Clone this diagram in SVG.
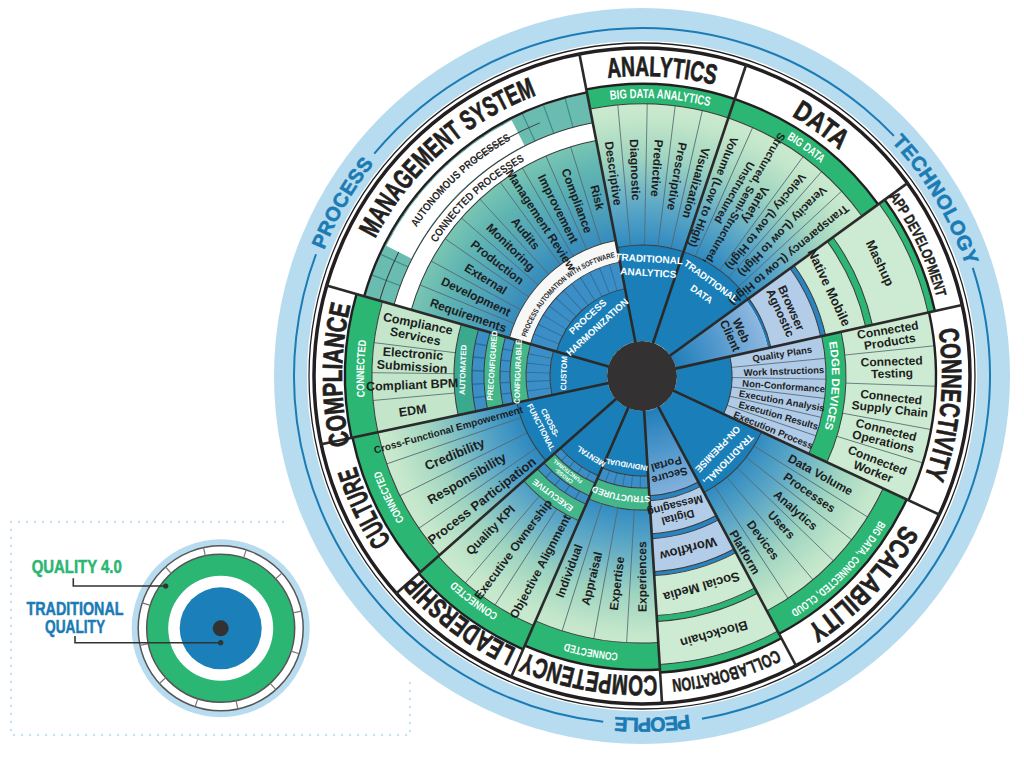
<svg xmlns="http://www.w3.org/2000/svg" width="1024" height="764" viewBox="0 0 1024 764">
<defs>
<style>
text{font-family:"Liberation Sans Narrow","Liberation Sans",Arial,sans-serif;font-weight:700}
.c{dominant-baseline:central;text-anchor:middle}
.s{dominant-baseline:central;text-anchor:start}
.big{font-size:28px;fill:#231f20;stroke:#231f20;stroke-width:0.7}
.it{font-size:12px;fill:#1e1e1e}
.wt{fill:#fff}
.sec{fill:none}
.ar{fill:none;stroke:#3a3a3a;stroke-width:1}
.lb{fill:none;stroke:#231f20;stroke-width:2.4}
.rl{stroke:#2a2a2a;stroke-width:2.6}
.tl{stroke:#56676e;stroke-width:0.8}
</style>
<radialGradient id="gG" gradientUnits="userSpaceOnUse" cx="0" cy="0" r="280">
<stop offset="0.45" stop-color="#2a87c0"/><stop offset="0.6" stop-color="#5aa6c6"/><stop offset="0.78" stop-color="#9fd4c0"/><stop offset="0.92" stop-color="#c4e7cb"/><stop offset="1" stop-color="#cdebd0"/>
</radialGradient>
<radialGradient id="gT" gradientUnits="userSpaceOnUse" cx="0" cy="0" r="280">
<stop offset="0.45" stop-color="#2c83bd"/><stop offset="0.6" stop-color="#4c9fba"/><stop offset="0.75" stop-color="#5fb4b2"/><stop offset="0.86" stop-color="#79c6b3"/><stop offset="1" stop-color="#8ed1b6"/>
</radialGradient>
<radialGradient id="gB" gradientUnits="userSpaceOnUse" cx="0" cy="0" r="130">
<stop offset="0.25" stop-color="#1f7db8"/><stop offset="0.6" stop-color="#4f97cc"/><stop offset="1" stop-color="#8fb8e0"/>
</radialGradient>
<path id="t342" d="M0,-342A342,342 0 1 1 0,342A342,342 0 1 1 0,-342"/>
<path id="b342" d="M0,342A342,342 0 1 1 0,-342A342,342 0 1 1 0,342"/>
<path id="t300" d="M0,-300A300,300 0 1 1 0,300A300,300 0 1 1 0,-300"/>
<path id="b300" d="M0,300A300,300 0 1 1 0,-300A300,300 0 1 1 0,300"/>
<path id="t305" d="M0,-305A305,305 0 1 1 0,305A305,305 0 1 1 0,-305"/>
<path id="b305" d="M0,305A305,305 0 1 1 0,-305A305,305 0 1 1 0,305"/>
<path id="t278" d="M0,-278A278,278 0 1 1 0,278A278,278 0 1 1 0,-278"/>
<path id="b278" d="M0,278A278,278 0 1 1 0,-278A278,278 0 1 1 0,278"/>
<path id="t190" d="M0,-190A190,190 0 1 1 0,190A190,190 0 1 1 0,-190"/>
<path id="b270" d="M0,270A270,270 0 1 1 0,-270A270,270 0 1 1 0,270"/>
<path id="b245" d="M0,245A245,245 0 1 1 0,-245A245,245 0 1 1 0,245"/>
<path id="b122" d="M0,122A122,122 0 1 1 0,-122A122,122 0 1 1 0,122"/>
<path id="t120" d="M0,-120A120,120 0 1 1 0,120A120,120 0 1 1 0,-120"/>
</defs>
<rect width="1024" height="764" fill="#fff"/>

<g id="legend">
<rect x="11" y="522" width="399" height="213" fill="none" stroke="#c4e2f4" stroke-width="2.4" stroke-dasharray="0 8" stroke-linecap="round"/>
<g transform="translate(220.7 628.3)">
<circle r="89" fill="#b7dcef"/>
<circle r="82.5" fill="#fff" stroke="#555" stroke-width="1.5"/>
<circle r="74" fill="#2bb673" stroke="#555" stroke-width="1.5"/>
<circle r="52.5" fill="#fff"/>
<circle r="41" fill="#1b80b9"/>
<circle r="8" fill="#333132"/>
<g stroke="#777" stroke-width="1.2">
<line y1="-74" y2="-82.5" transform="rotate(-12)"/><line y1="-74" y2="-82.5" transform="rotate(18)"/><line y1="-74" y2="-82.5" transform="rotate(48)"/><line y1="-74" y2="-82.5" transform="rotate(78)"/><line y1="-74" y2="-82.5" transform="rotate(108)"/><line y1="-74" y2="-82.5" transform="rotate(138)"/><line y1="-74" y2="-82.5" transform="rotate(168)"/><line y1="-74" y2="-82.5" transform="rotate(198)"/><line y1="-74" y2="-82.5" transform="rotate(228)"/><line y1="-74" y2="-82.5" transform="rotate(258)"/><line y1="-74" y2="-82.5" transform="rotate(288)"/><line y1="-74" y2="-82.5" transform="rotate(318)"/>
</g>
</g>
<polyline points="73.3,578.3 73.3,586 165.7,586" fill="none" stroke="#333" stroke-width="1.6"/>
<circle cx="165.7" cy="586" r="2.6" fill="#333"/>
<polyline points="75,636 75,642.7 220.7,642.7" fill="none" stroke="#333" stroke-width="1.6"/>
<circle cx="220.7" cy="642.7" r="2.6" fill="#333"/>
<text x="76.7" y="573.3" font-size="18" fill="#2bb673" stroke="#2bb673" stroke-width="0.5" text-anchor="middle" textLength="90" lengthAdjust="spacingAndGlyphs">QUALITY 4.0</text>
<text x="75" y="615" font-size="18" fill="#1b7bb5" stroke="#1b7bb5" stroke-width="0.5" text-anchor="middle" textLength="97" lengthAdjust="spacingAndGlyphs">TRADITIONAL</text>
<text x="75" y="633.3" font-size="18" fill="#1b7bb5" stroke="#1b7bb5" stroke-width="0.5" text-anchor="middle" textLength="60" lengthAdjust="spacingAndGlyphs">QUALITY</text>
</g>

<g id="wheel" transform="translate(642 376)">
<circle r="381" fill="#fff"/>
<circle r="368" fill="#b7dcef"/>
<circle r="335" fill="#fff"/>
<g fill="none" stroke="#1b7bb5" stroke-width="2">
<circle r="348" pathLength="360" stroke-dasharray="96.7 360" transform="rotate(219.7)"/>
<circle r="348" pathLength="360" stroke-dasharray="98.2 360" transform="rotate(-18.1)"/>
<circle r="348" pathLength="360" stroke-dasharray="104.1 360" transform="rotate(96.4)"/>
</g>
<g font-size="20" fill="#1b7bb5" stroke="#1b7bb5" stroke-width="0.6" text-anchor="middle">
<text><textPath href="#b342" startOffset="33.33%" textLength="100">PROCESS</textPath></text>
<text><textPath href="#b342" startOffset="66.39%" textLength="145">TECHNOLOGY</textPath></text>
<text><textPath href="#t342" startOffset="49.53%" textLength="75">PEOPLE</textPath></text>
</g>
<circle r="333" fill="none" stroke="#231f20" stroke-width="1.3"/>
<circle r="328" fill="#fff" stroke="#231f20" stroke-width="3.5"/>

<g id="sectors" class="sec">
<g transform="rotate(259)" stroke-dasharray="29.5 360">
<circle class="sec" r="282" stroke-width="20" stroke="#2bb673" pathLength="360"/>
<circle class="sec" r="201.5" stroke-width="141" stroke="url(#gG)" pathLength="360"/>
<circle class="sec" r="83" stroke-width="96" stroke="#1a7fb8" pathLength="360"/>
</g>
<g transform="rotate(-71.5)" stroke-dasharray="35.5 360">
<circle class="sec" r="282" stroke-width="20" stroke="#2bb673" pathLength="360"/>
<circle class="sec" r="201.5" stroke-width="141" stroke="url(#gG)" pathLength="360"/>
<circle class="sec" r="83" stroke-width="96" stroke="#1a7fb8" pathLength="360"/>
</g>
<g transform="rotate(-36)" stroke-dasharray="23.5 360">
<circle class="sec" r="296.5" stroke-width="7" stroke="#2bb673" pathLength="360"/>
<circle class="sec" r="264.5" stroke-width="57" stroke="#cdebd2" pathLength="360"/>
<circle class="sec" r="232.5" stroke-width="7" stroke="#2bb673" pathLength="360"/>
<circle class="sec" r="208.5" stroke-width="41" stroke="#cdebd2" pathLength="360"/>
<circle class="sec" r="185.5" stroke-width="5" stroke="#2a84c2" pathLength="360"/>
<circle class="sec" r="157.5" stroke-width="51" stroke="#b3cde8" pathLength="360"/>
<circle class="sec" r="130.5" stroke-width="3" stroke="#1f78b2" pathLength="360"/>
<circle class="sec" r="82" stroke-width="94" stroke="url(#gB)" pathLength="360"/>
</g>
<g transform="rotate(-12.5)" stroke-dasharray="37.5 360">
<circle class="sec" r="249" stroke-width="90" stroke="#cdebd2" pathLength="360"/>
<circle class="sec" r="194" stroke-width="20" stroke="#2bb673" pathLength="360"/>
<circle class="sec" r="137" stroke-width="94" stroke="#b0cbe7" pathLength="360"/>
<circle class="sec" r="62.5" stroke-width="55" stroke="#1a7fb8" pathLength="360"/>
</g>
<g transform="rotate(25)" stroke-dasharray="37 360">
<circle class="sec" r="279" stroke-width="26" stroke="#2bb673" pathLength="360"/>
<circle class="sec" r="199" stroke-width="134" stroke="url(#gG)" pathLength="360"/>
<circle class="sec" r="83.5" stroke-width="97" stroke="#1a7fb8" pathLength="360"/>
</g>
<g transform="rotate(62)" stroke-dasharray="24.5 360">
<circle class="sec" r="293" stroke-width="8" stroke="#2bb673" pathLength="360"/>
<circle class="sec" r="267.5" stroke-width="43" stroke="#cdebd2" pathLength="360"/>
<circle class="sec" r="243" stroke-width="6" stroke="#2bb673" pathLength="360"/>
<circle class="sec" r="220" stroke-width="40" stroke="#cdebd2" pathLength="360"/>
<circle class="sec" r="198" stroke-width="4" stroke="#2a84c2" pathLength="360"/>
<circle class="sec" r="179.5" stroke-width="33" stroke="#b3cde8" pathLength="360"/>
<circle class="sec" r="160.5" stroke-width="5" stroke="#2a84c2" pathLength="360"/>
<circle class="sec" r="141.5" stroke-width="33" stroke="#b3cde8" pathLength="360"/>
<circle class="sec" r="122.5" stroke-width="5" stroke="#2a84c2" pathLength="360"/>
<circle class="sec" r="77.5" stroke-width="85" stroke="url(#gB)" pathLength="360"/>
</g>
<g transform="rotate(86.5)" stroke-dasharray="27 360">
<circle class="sec" r="280.5" stroke-width="27" stroke="#2bb673" pathLength="360"/>
<circle class="sec" r="200.5" stroke-width="133" stroke="url(#gG)" pathLength="360"/>
<circle class="sec" r="123" stroke-width="22" stroke="#43b68a" pathLength="360"/>
<circle class="sec" r="106" stroke-width="12" stroke="#3c8ec6" pathLength="360"/>
<circle class="sec" r="67.5" stroke-width="65" stroke="#1a7fb8" pathLength="360"/>
</g>
<g transform="rotate(113.5)" stroke-dasharray="25 360">
<circle class="sec" r="285" stroke-width="26" stroke="#2bb673" pathLength="360"/>
<circle class="sec" r="215" stroke-width="114" stroke="url(#gG)" pathLength="360"/>
<circle class="sec" r="149" stroke-width="18" stroke="#43b68a" pathLength="360"/>
<circle class="sec" r="135.5" stroke-width="9" stroke="#3c8ec6" pathLength="360"/>
<circle class="sec" r="124" stroke-width="14" stroke="#43b68a" pathLength="360"/>
<circle class="sec" r="113" stroke-width="8" stroke="#3c8ec6" pathLength="360"/>
<circle class="sec" r="72" stroke-width="74" stroke="#1a7fb8" pathLength="360"/>
</g>
<g transform="rotate(138.5)" stroke-dasharray="29.5 360">
<circle class="sec" r="283" stroke-width="26" stroke="#2bb673" pathLength="360"/>
<circle class="sec" r="199" stroke-width="142" stroke="url(#gG)" pathLength="360"/>
<circle class="sec" r="81.5" stroke-width="93" stroke="#1a7fb8" pathLength="360"/>
</g>
<g transform="rotate(168)" stroke-dasharray="28 360">
<circle class="sec" r="283.5" stroke-width="27" stroke="#2bb673" pathLength="360"/>
<circle class="sec" r="229" stroke-width="82" stroke="#c3e6cb" pathLength="360"/>
<circle class="sec" r="179" stroke-width="18" stroke="#3aa98e" pathLength="360"/>
<circle class="sec" r="164" stroke-width="12" stroke="#3c8ec6" pathLength="360"/>
<circle class="sec" r="150" stroke-width="16" stroke="#43b68a" pathLength="360"/>
<circle class="sec" r="137" stroke-width="10" stroke="#3c8ec6" pathLength="360"/>
<circle class="sec" r="124" stroke-width="16" stroke="#43b68a" pathLength="360"/>
<circle class="sec" r="104" stroke-width="24" stroke="#3c8ec6" pathLength="360"/>
<circle class="sec" r="63.5" stroke-width="57" stroke="#1a7fb8" pathLength="360"/>
</g>
<g transform="rotate(196)" stroke-dasharray="63 360">
<circle class="sec" r="273" stroke-width="30" stroke="#6abcb1" pathLength="360"/>
<circle class="sec" r="248.5" stroke-width="17" stroke="#fff" pathLength="360"/>
<circle class="sec" r="189" stroke-width="102" stroke="url(#gT)" pathLength="360"/>
<circle class="sec" r="127" stroke-width="22" stroke="#f6f7f7" pathLength="360"/>
<circle class="sec" r="102.5" stroke-width="27" stroke="#3c8ec6" pathLength="360"/>
<circle class="sec" r="62" stroke-width="54" stroke="#1a7fb8" pathLength="360"/>
</g>
</g>

<g id="cells" fill="none">
<g stroke="#2b6f9f">
<circle r="106" stroke-width="12" pathLength="360" stroke-dasharray="0 4.25 .5 4 .5 4 .5 4 .5 4 .5 400" transform="rotate(86.5)"/>
<circle r="113" stroke-width="8" pathLength="360" stroke-dasharray="0 4.75 .5 4.5 .5 4.5 .5 4.5 .5 400" transform="rotate(113.5)"/>
<circle r="135.5" stroke-width="9" pathLength="360" stroke-dasharray="0 4.75 .5 4.5 .5 4.5 .5 4.5 .5 400" transform="rotate(113.5)"/>
<circle r="104" stroke-width="24" pathLength="360" stroke-dasharray="0 4.4 .5 4.1 .5 4.1 .5 4.1 .5 4.1 .5 400" transform="rotate(168)"/>
<circle r="137" stroke-width="10" pathLength="360" stroke-dasharray="0 4.4 .5 4.1 .5 4.1 .5 4.1 .5 4.1 .5 400" transform="rotate(168)"/>
<circle r="164" stroke-width="12" pathLength="360" stroke-dasharray="0 4.4 .5 4.1 .5 4.1 .5 4.1 .5 4.1 .5 400" transform="rotate(168)"/>
<circle r="102.5" stroke-width="27" pathLength="360" stroke-dasharray="0 5 .5 4.75 .5 4.75 .5 4.75 .5 4.75 .5 4.75 .5 4.75 .5 4.75 .5 4.75 .5 4.75 .5 4.75 .5 400" transform="rotate(196)"/>
</g>
<g stroke="#3d8c8a">
<circle r="273" stroke-width="30" pathLength="360" stroke-dasharray="0 4.375 .25 4.25 .25 4.25 .25 4.25 .25 4.25 .25 4.25 .25 4.25 .25 4.25 .25 4.25 .25 4.25 .25 4.25 .25 4.25 .25 4.25 .25 400" transform="rotate(196)"/>
</g>
<circle r="273" fill="none" stroke="#fff" stroke-width="28" pathLength="360" stroke-dasharray="36 360" transform="rotate(207)"/>
</g>

<g id="thin-lines" class="tl">
<line y1="-131" y2="-272" transform="rotate(-5.1)"/><line y1="-131" y2="-272" transform="rotate(1.1)"/><line y1="-131" y2="-272" transform="rotate(7)"/><line y1="-131" y2="-272" transform="rotate(12.8)"/>
<line y1="-131" y2="-272" transform="rotate(24)"/><line y1="-131" y2="-272" transform="rotate(36.3)"/><line y1="-131" y2="-272" transform="rotate(41.3)"/><line y1="-131" y2="-272" transform="rotate(47.2)"/>
<line y1="-204" y2="-294" transform="rotate(84.1)"/><line y1="-204" y2="-294" transform="rotate(92)"/><line y1="-204" y2="-294" transform="rotate(100.5)"/><line y1="-204" y2="-294" transform="rotate(107.2)"/>
<line y1="-90" y2="-184" transform="rotate(84.5)"/><line y1="-90" y2="-184" transform="rotate(91)"/><line y1="-90" y2="-184" transform="rotate(97)"/><line y1="-90" y2="-184" transform="rotate(103)"/><line y1="-90" y2="-184" transform="rotate(109)"/>
<line y1="-132" y2="-266" transform="rotate(122)"/><line y1="-132" y2="-266" transform="rotate(128)"/><line y1="-132" y2="-266" transform="rotate(134)"/><line y1="-132" y2="-266" transform="rotate(140)"/><line y1="-132" y2="-266" transform="rotate(146.7)"/>
<line y1="-134" y2="-267" transform="rotate(183.3)"/><line y1="-134" y2="-267" transform="rotate(190.4)"/><line y1="-134" y2="-267" transform="rotate(197.4)"/>
<line y1="-158" y2="-272" transform="rotate(212.7)"/><line y1="-158" y2="-272" transform="rotate(220.5)"/>
<line y1="-128" y2="-270" transform="rotate(235.7)"/><line y1="-128" y2="-270" transform="rotate(243.7)"/><line y1="-128" y2="-270" transform="rotate(251)"/>
<line y1="-188" y2="-270" transform="rotate(264.8)"/><line y1="-188" y2="-270" transform="rotate(270.7)"/><line y1="-188" y2="-270" transform="rotate(277.1)"/>
<line y1="-138" y2="-240" transform="rotate(292.3)"/><line y1="-138" y2="-240" transform="rotate(298.6)"/><line y1="-138" y2="-240" transform="rotate(304.9)"/><line y1="-138" y2="-240" transform="rotate(311.2)"/><line y1="-138" y2="-240" transform="rotate(317.5)"/><line y1="-138" y2="-240" transform="rotate(323.8)"/><line y1="-138" y2="-240" transform="rotate(330.1)"/><line y1="-138" y2="-240" transform="rotate(336.4)"/><line y1="-138" y2="-240" transform="rotate(342.7)"/>
</g>

<g id="arcs">
<g class="ar">
<circle r="272" pathLength="360" stroke-dasharray="65 360" transform="rotate(259)"/>
<circle r="131" pathLength="360" stroke-dasharray="65 360" transform="rotate(259)"/>
<g transform="rotate(-36)" stroke-dasharray="23.5 360"><circle r="293" pathLength="360"/><circle r="236" pathLength="360"/><circle r="229" pathLength="360"/><circle r="188" pathLength="360"/><circle r="183" pathLength="360"/><circle r="132" pathLength="360"/></g>
<g transform="rotate(-12.5)" stroke-dasharray="37.5 360"><circle r="204" pathLength="360"/><circle r="184" pathLength="360"/><circle r="90" pathLength="360"/></g>
<g transform="rotate(25)" stroke-dasharray="37 360"><circle r="266" pathLength="360"/><circle r="132" pathLength="360"/></g>
<g transform="rotate(62)" stroke-dasharray="24.5 360"><circle r="289" pathLength="360"/><circle r="246" pathLength="360"/><circle r="240" pathLength="360"/><circle r="200" pathLength="360"/><circle r="196" pathLength="360"/><circle r="163" pathLength="360"/><circle r="158" pathLength="360"/><circle r="125" pathLength="360"/><circle r="120" pathLength="360"/></g>
<g transform="rotate(86.5)" stroke-dasharray="27 360"><circle r="267" pathLength="360"/><circle r="134" pathLength="360"/><circle r="112" pathLength="360"/><circle r="100" pathLength="360"/></g>
<g transform="rotate(113.5)" stroke-dasharray="25 360"><circle r="272" pathLength="360"/><circle r="158" pathLength="360"/><circle r="140" pathLength="360"/><circle r="131" pathLength="360"/><circle r="117" pathLength="360"/><circle r="109" pathLength="360"/></g>
<g transform="rotate(138.5)" stroke-dasharray="29.5 360"><circle r="270" pathLength="360"/><circle r="128" pathLength="360"/></g>
<g transform="rotate(168)" stroke-dasharray="28 360"><circle r="270" pathLength="360"/><circle r="188" pathLength="360"/><circle r="170" pathLength="360"/><circle r="158" pathLength="360"/><circle r="142" pathLength="360"/><circle r="132" pathLength="360"/><circle r="116" pathLength="360"/><circle r="92" pathLength="360"/></g>
<g transform="rotate(196)" stroke-dasharray="63 360"><circle r="258" pathLength="360"/><circle r="240" pathLength="360"/><circle r="138" pathLength="360"/><circle r="116" pathLength="360"/><circle r="89" pathLength="360"/></g>
<circle r="273" pathLength="360" stroke-dasharray="11 25 16 400" transform="rotate(196)"/>
</g>
<g class="lb">
<circle r="292" pathLength="360" stroke-dasharray="65 360" transform="rotate(259)"/>
<circle r="300" pathLength="360" stroke-dasharray="23.5 360" transform="rotate(-36)"/>
<circle r="294" pathLength="360" stroke-dasharray="37.5 360" transform="rotate(-12.5)"/>
<circle r="292" pathLength="360" stroke-dasharray="37 360" transform="rotate(25)"/>
<circle r="297" pathLength="360" stroke-dasharray="24.5 360" transform="rotate(62)"/>
<circle r="294" pathLength="360" stroke-dasharray="27 360" transform="rotate(86.5)"/>
<circle r="298" pathLength="360" stroke-dasharray="25 360" transform="rotate(113.5)"/>
<circle r="296" pathLength="360" stroke-dasharray="29.5 360" transform="rotate(138.5)"/>
<circle r="297" pathLength="360" stroke-dasharray="28 360" transform="rotate(168)"/>
<circle r="289" pathLength="360" stroke-dasharray="63 360" transform="rotate(196)"/>
</g>
</g>

<g id="connectors" class="rl">
<line y1="-34" y2="-329" transform="rotate(-11)"/>
<line y1="-34" y2="-329" transform="rotate(18.5)"/>
<line y1="-34" y2="-329" transform="rotate(54)"/>
<line y1="-34" y2="-329" transform="rotate(77.5)"/>
<line y1="-34" y2="-329" transform="rotate(115)"/>
<line y1="-34" y2="-329" transform="rotate(152)"/>
<line y1="-34" y2="-329" transform="rotate(176.5)"/>
<line y1="-34" y2="-329" transform="rotate(203.5)"/>
<line y1="-34" y2="-329" transform="rotate(228.5)"/>
<line y1="-34" y2="-329" transform="rotate(258)"/>
<line y1="-34" y2="-329" transform="rotate(286)"/>
</g>
<circle id="hub" r="35" fill="#333132"/>

<g id="category-labels" class="big" text-anchor="middle">
<text><textPath href="#b300" startOffset="51.04%" textLength="108" lengthAdjust="spacingAndGlyphs">ANALYTICS</textPath></text>
<text><textPath href="#b300" startOffset="59.86%" textLength="59" lengthAdjust="spacingAndGlyphs">DATA</textPath></text>
<text font-size="15" stroke-width="0.4"><textPath href="#b305" startOffset="67.92%" textLength="112" lengthAdjust="spacingAndGlyphs">APP DEVELOPMENT</textPath></text>
<text><textPath href="#t300" startOffset="26.5%" textLength="150" lengthAdjust="spacingAndGlyphs">CONNECTIVITY</textPath></text>
<text><textPath href="#t300" startOffset="37%" textLength="142" lengthAdjust="spacingAndGlyphs">SCALABILITY</textPath></text>
<text font-size="18" stroke-width="0.5"><textPath href="#t305" startOffset="45.58%" textLength="110" lengthAdjust="spacingAndGlyphs">COLLABORATION</textPath></text>
<text><textPath href="#t300" startOffset="52.78%" textLength="135" lengthAdjust="spacingAndGlyphs">COMPETENCY</textPath></text>
<text><textPath href="#t300" startOffset="60.22%" textLength="126" lengthAdjust="spacingAndGlyphs">LEADERSHIP</textPath></text>
<text><textPath href="#t300" startOffset="67.94%" textLength="83" lengthAdjust="spacingAndGlyphs">CULTURE</textPath></text>
<text><textPath href="#b300" startOffset="25.06%" textLength="141" lengthAdjust="spacingAndGlyphs">COMPLIANCE</textPath></text>
<text><textPath href="#b300" startOffset="38.42%" textLength="221" lengthAdjust="spacingAndGlyphs">MANAGEMENT SYSTEM</textPath></text>
</g>

<g id="band-labels" font-size="11" fill="#fff" text-anchor="middle">
<text font-size="13"><textPath href="#b278" startOffset="51.04%" textLength="100" lengthAdjust="spacingAndGlyphs">BIG DATA ANALYTICS</textPath></text>
<text font-size="12"><textPath href="#b278" startOffset="59.92%" textLength="42" lengthAdjust="spacingAndGlyphs">BIG DATA</textPath></text>
<text><textPath href="#t190" startOffset="25.83%" textLength="88" lengthAdjust="spacingAndGlyphs">EDGE DEVICES</textPath></text>
<text><textPath href="#t278" startOffset="37.36%" textLength="128" lengthAdjust="spacingAndGlyphs">BIG DATA, CONNECTED, CLOUD</textPath></text>
<text><textPath href="#t278" startOffset="52.92%" textLength="54" lengthAdjust="spacingAndGlyphs">CONNECTED</textPath></text>
<text><textPath href="#t278" startOffset="60.22%" textLength="55" lengthAdjust="spacingAndGlyphs">CONNECTED</textPath></text>
<text><textPath href="#t278" startOffset="67.89%" textLength="55" lengthAdjust="spacingAndGlyphs">CONNECTED</textPath></text>
<text><textPath href="#b278" startOffset="25.42%" textLength="57" lengthAdjust="spacingAndGlyphs">CONNECTED</textPath></text>
<text fill="#2a2a2a"><textPath href="#b270" startOffset="38.1%" textLength="130" lengthAdjust="spacingAndGlyphs">AUTONOMOUS PROCESSES</textPath></text>
<text fill="#2a2a2a"><textPath href="#b245" startOffset="38.1%" textLength="122" lengthAdjust="spacingAndGlyphs">CONNECTED PROCESSES</textPath></text>
<text fill="#2a2a2a" font-size="7.5"><textPath href="#b122" startOffset="38.3%" textLength="125" lengthAdjust="spacingAndGlyphs">PROCESS AUTOMATION WITH SOFTWARE</textPath></text>
<text font-size="9"><textPath href="#t120" startOffset="52.78%" textLength="58" lengthAdjust="spacingAndGlyphs">STRUCTURED</textPath></text>
</g>

<g id="items" class="it">
<g class="s">
<text x="0" y="-237" transform="rotate(-8.05) rotate(90 0 -237)">Descriptive</text>
<text x="0" y="-237" transform="rotate(-2) rotate(90 0 -237)">Diagnostic</text>
<text x="0" y="-237" transform="rotate(4.05) rotate(90 0 -237)">Predictive</text>
<text x="0" y="-237" transform="rotate(9.9) rotate(90 0 -237)">Prescriptive</text>
<text x="0" y="-237" transform="rotate(15.65) rotate(90 0 -237)">Visualization</text>
<text x="0" y="-256" font-size="11.5" transform="rotate(21.25) rotate(90 0 -256)">Volume (Low to High)</text>
<text x="0" y="-258" font-size="11.5" transform="rotate(38.8) rotate(90 0 -258)">Velocity (Low to High)</text>
<text x="0" y="-262" font-size="11.5" transform="rotate(44.25) rotate(90 0 -262)">Veracity (Low to High)</text>
<text x="0" y="-266" font-size="11.5" transform="rotate(50.6) rotate(90 0 -266)">Transparency (Low to High)</text>
<text x="0" y="-236" transform="rotate(179.9) rotate(90 0 -236)">Experiences</text>
<text x="0" y="-236" transform="rotate(186.85) rotate(90 0 -236)">Expertise</text>
<text x="0" y="-236" transform="rotate(193.9) rotate(90 0 -236)">Appraisal</text>
<text x="0" y="-236" transform="rotate(200.45) rotate(90 0 -236)">Individual</text>
</g>
<text class="c" font-size="11" transform="rotate(30.15) rotate(90 0 -205)"><tspan x="0" y="-217" font-size="12.5">Variety</tspan><tspan x="0" y="-205">Structured, Semi-Structured,</tspan><tspan x="0" y="-193">Unstructured</tspan></text>
<g class="c">
<text transform="rotate(80.8) rotate(-90 0 -250)"><tspan x="0" y="-256">Connected</tspan><tspan x="0" y="-244">Products</tspan></text>
<text transform="rotate(88.05) rotate(-90 0 -250)"><tspan x="0" y="-256">Connected</tspan><tspan x="0" y="-244">Testing</tspan></text>
<text transform="rotate(96.25) rotate(-90 0 -250)"><tspan x="0" y="-256">Connected</tspan><tspan x="0" y="-244">Supply Chain</tspan></text>
<text transform="rotate(103.85) rotate(-90 0 -250)"><tspan x="0" y="-256">Connected</tspan><tspan x="0" y="-244">Operations</tspan></text>
<text transform="rotate(111.1) rotate(-90 0 -250)"><tspan x="0" y="-256">Connected</tspan><tspan x="0" y="-244">Worker</tspan></text>
<g font-size="9.5">
<text x="0" y="-142" transform="rotate(81) rotate(-90 0 -142)">Quality Plans</text>
<text x="0" y="-142" transform="rotate(88) rotate(-90 0 -142)">Work Instructions</text>
<text x="0" y="-142" transform="rotate(94) rotate(-90 0 -142)">Non-Conformance</text>
<text x="0" y="-142" transform="rotate(100) rotate(-90 0 -142)">Execution Analysis</text>
<text x="0" y="-142" transform="rotate(106) rotate(-90 0 -142)">Execution Results</text>
<text x="0" y="-142" transform="rotate(112.3) rotate(-90 0 -142)">Execution Process</text>
</g>
<text x="0" y="-204" transform="rotate(119) rotate(-90 0 -204)">Data Volume</text>
<text x="0" y="-204" transform="rotate(124.9) rotate(-90 0 -204)">Processes</text>
<text x="0" y="-204" transform="rotate(131.2) rotate(-90 0 -204)">Analytics</text>
<text x="0" y="-204" transform="rotate(136.9) rotate(-90 0 -204)">Users</text>
<text x="0" y="-204" transform="rotate(143.6) rotate(-90 0 -204)">Devices</text>
<text x="0" y="-204" transform="rotate(149.8) rotate(-90 0 -204)">Platform</text>
<text font-size="11" transform="rotate(164.5)"><tspan x="0" y="-103.5">Secure</tspan><tspan x="0" y="-91.5">Portal</tspan></text>
<text font-size="11" transform="rotate(165.7)"><tspan x="0" y="-146">Digital</tspan><tspan x="0" y="-134">Messaging</tspan></text>
<text x="0" y="-179" font-size="13" transform="rotate(165)">Workflow</text>
<text x="0" y="-219" font-size="13" transform="rotate(164.2)">Social Media</text>
<text x="0" y="-268" font-size="13" transform="rotate(164.4)">Blockchain</text>
<text x="0" y="-216" transform="rotate(208.1) rotate(90 0 -216)">Objective Alignment</text>
<text x="0" y="-216" transform="rotate(216.6) rotate(90 0 -216)">Executive Ownership</text>
<text x="0" y="-216" transform="rotate(224.5) rotate(90 0 -216)">Quality KPI</text>
<text x="0" y="-203" font-size="13" transform="rotate(232.1) rotate(90 0 -203)">Process Participation</text>
<text x="0" y="-203" font-size="13" transform="rotate(239.7) rotate(90 0 -203)">Responsibility</text>
<text x="0" y="-203" font-size="13" transform="rotate(247.35) rotate(90 0 -203)">Credibility</text>
<text x="0" y="-201" font-size="10" transform="rotate(254.5) rotate(90 0 -201)">Cross-Functional Empowerment</text>
<g font-size="12.5">
<text transform="rotate(281.5) rotate(90 0 -230)"><tspan x="0" y="-236.5">Compliance</tspan><tspan x="0" y="-223.5">Services</tspan></text>
<text transform="rotate(273.9) rotate(90 0 -230)"><tspan x="0" y="-236.5">Electronic</tspan><tspan x="0" y="-223.5">Submission</tspan></text>
<text x="0" y="-230" transform="rotate(267.75) rotate(90 0 -230)">Compliant BPM</text>
<text x="0" y="-232" transform="rotate(261.4) rotate(90 0 -232)">EDM</text>
</g>
<text x="0" y="-184" transform="rotate(289.2) rotate(90 0 -184)">Requirements</text>
<text x="0" y="-184" transform="rotate(295.5) rotate(90 0 -184)">Development</text>
<text x="0" y="-184" transform="rotate(301.8) rotate(90 0 -184)">External</text>
<text x="0" y="-184" transform="rotate(308.1) rotate(90 0 -184)">Production</text>
<text x="0" y="-184" transform="rotate(314.4) rotate(90 0 -184)">Monitoring</text>
<text x="0" y="-184" transform="rotate(320.7) rotate(90 0 -184)">Audits</text>
<text x="0" y="-186" transform="rotate(327) rotate(90 0 -186)">Management Review</text>
<text x="0" y="-187" transform="rotate(333.3) rotate(90 0 -187)">Improvement</text>
<text x="0" y="-187" transform="rotate(339.6) rotate(90 0 -187)">Compliance</text>
<text x="0" y="-184" transform="rotate(345.9) rotate(90 0 -184)">Risk</text>
<text x="0" y="-263.5" font-size="13" transform="rotate(64.6)">Mashup</text>
<text x="0" y="-207" font-size="13" transform="rotate(64.7)">Native Mobile</text>
<text transform="rotate(65.5)"><tspan x="0" y="-164">Browser</tspan><tspan x="0" y="-152">Agnostic</tspan></text>
<text transform="rotate(65.4)"><tspan x="0" y="-109">Web</tspan><tspan x="0" y="-97">Client</tspan></text>
</g>
</g>

<g id="core-labels" class="c wt">
<text font-size="10" transform="rotate(3.5)"><tspan x="0" y="-118">TRADITIONAL</tspan><tspan x="0" y="-104">ANALYTICS</tspan></text>
<text font-size="9.5" transform="rotate(36)"><tspan x="0" y="-118">TRADITIONAL</tspan><tspan x="0" y="-102">DATA</tspan></text>
<text font-size="9.5" transform="rotate(317.5)"><tspan x="0" y="-81">PROCESS</tspan><tspan x="0" y="-67">HARMONIZATION</tspan></text>
<text font-size="8" x="0" y="-78" transform="rotate(272)">CUSTOM</text>
<text font-size="8" transform="rotate(243) rotate(180 0 -108)"><tspan x="0" y="-113">CROSS-</tspan><tspan x="0" y="-103">FUNCTIONAL</tspan></text>
<text font-size="8" x="0" y="-95" transform="rotate(212.4)">MENTAL</text>
<text font-size="7.5" x="0" y="-90" transform="rotate(190)">INDIVIDUAL</text>
<text font-size="9.5" transform="rotate(134)"><tspan x="0" y="-121">TRADITIONAL,</tspan><tspan x="0" y="-106">ON-PREMISE</tspan></text>
<text font-size="8.5" x="0" y="-149" transform="rotate(216.8)">EXECUTIVE</text>
<text font-size="5.5" transform="rotate(218)"><tspan x="0" y="-127">CROSS-</tspan><tspan x="0" y="-121">FUNCTIONAL</tspan></text>
<text font-size="8" x="0" y="-124" transform="rotate(272)">CONFIGURABLE</text>
<text font-size="8" x="0" y="-150" transform="rotate(274)">PRECONFIGURED</text>
<text font-size="8" x="0" y="-179" transform="rotate(272)">AUTOMATED</text>
</g>
</g>
</svg>
